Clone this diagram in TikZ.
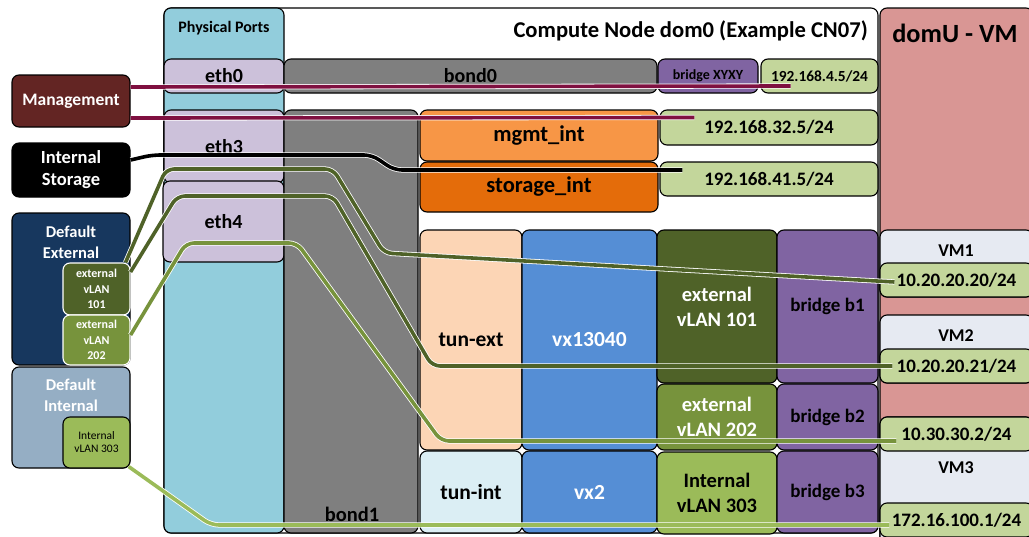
\documentclass[tikz,border=0pt]{standalone}
\usepackage{fontspec}
\setmainfont{Carlito}
\definecolor{PortBlue}{HTML}{92CDDC}
\definecolor{EthLilac}{HTML}{CCC1DA}
\definecolor{BondGray}{HTML}{7F7F7F}
\definecolor{BridgePurple}{HTML}{8064A2}
\definecolor{IpGreen}{HTML}{C3D69B}
\definecolor{MgmtOrange}{HTML}{F79646}
\definecolor{StorOrange}{HTML}{E46C0A}
\definecolor{TunPeach}{HTML}{FCD5B5}
\definecolor{TunIce}{HTML}{DBEEF4}
\definecolor{VxBlue}{HTML}{558ED5}
\definecolor{VlanDark}{HTML}{4F6228}
\definecolor{VlanMid}{HTML}{77933C}
\definecolor{VlanLight}{HTML}{9BBB59}
\definecolor{DomuPink}{HTML}{D99694}
\definecolor{VmMist}{HTML}{E6EAF2}
\definecolor{MgmtBrown}{HTML}{632523}
\definecolor{ExtNavy}{HTML}{17375E}
\definecolor{IntSlate}{HTML}{95AEC4}
\definecolor{WireMaroon}{HTML}{7F1040}
\tikzset{
  wh/.style 2 args={minimum width=#1, minimum height=#2},
  box/.style={draw=black, rounded corners=7pt, align=center, inner sep=0pt,
              line width=1.1pt, font=\bfseries\fontsize{20}{23}\selectfont},
  ipbox/.style={box, fill=IpGreen, font=\bfseries\fontsize{19}{23}\selectfont},
  bridgebox/.style={box, fill=BridgePurple, font=\bfseries\fontsize{19}{23}\selectfont},
  bondbox/.style={box, fill=BondGray},
  ethbox/.style={box, fill=EthLilac},
  vmbox/.style={box, fill=VmMist},
  srcbox/.style={box, text=white, font=\bfseries\fontsize{17.5}{22}\selectfont},
  subvlan/.style={box, draw=white, text=white, wh={67}{51},
                  font=\bfseries\fontsize{12}{15.5}\selectfont},
  big/.style={font=\bfseries\fontsize{20.5}{25}\selectfont},
  bigger/.style={font=\bfseries\fontsize{22.5}{25}\selectfont},
  caption/.style={inner sep=0pt, align=center},
  tube/.style={draw=white, double=#1, double distance=3.6pt,
               line width=0.8pt, rounded corners=8pt}
}
\begin{document}
\begin{tikzpicture}[x=1pt, y=-1pt]
  \path[use as bounding box, fill=white] (0,0) rectangle (1029,536);
  \clip (0,0) rectangle (1029,536);

  % hosts
  \node[box, fill=white, wh={714}{525}] (cn) at (521,270.5) {};
  \node[box, fill=DomuPink, wh={153}{537}] (domu) at (956.5,276.5) {};
  \node[caption, anchor=east, font=\bfseries\fontsize{22.6}{25}\selectfont]
    (cntitle) at (868,31) {Compute Node dom0 (Example CN07)};
  \node[caption, font=\bfseries\fontsize{26.3}{29}\selectfont]
    (domutitle) at (955,33) {domU - VM};

  % physical ports
  \node[box, fill=PortBlue, wh={120}{525}] (ports) at (224,270.5) {};
  \node[caption, font=\bfseries\fontsize{16}{18}\selectfont]
    (portstitle) at (224,28) {Physical Ports};
  \node[ethbox, wh={120}{34}] (eth0) at (224,76) {eth0};
  \node[ethbox, wh={120}{73}] (eth3) at (224,146.5) {eth3};
  \node[ethbox, wh={121}{81}] (eth4) at (223.5,221.5) {eth4};

  % bonds, bridges, addresses
  \node[bondbox, wh={373}{34}] (bond0) at (470.5,76) {bond0};
  \node[bridgebox, wh={100}{34}, font=\bfseries\fontsize{14}{16}\selectfont]
    (brxyxy) at (708,76) {bridge XYXY};
  \node[ipbox, wh={117}{34}, font=\bfseries\fontsize{15.4}{18}\selectfont]
    (ip0) at (819.5,76) {192.168.4.5/24};
  \node[bondbox, wh={134}{423}] (bond1) at (351,321.5) {};
  \node[caption, big] (bond1lbl) at (352,514) {bond1};
  \node[box, bigger, fill=MgmtOrange, wh={238}{51}] (mgmtint) at (539,135.5) {mgmt\_int};
  \node[box, bigger, fill=StorOrange, wh={238}{50}] (storint) at (539,187) {storage\_int};
  \node[ipbox, wh={218}{35}] (ip32) at (769,127.5) {192.168.32.5/24};
  \node[ipbox, wh={218}{34}] (ip41) at (769,179) {192.168.41.5/24};

  % tunnels and vlans
  \node[box, fill=TunPeach, wh={102}{220}, font=\bfseries\fontsize{21.5}{25}\selectfont]
    (tunext) at (471,340) {tun-ext};
  \node[box, fill=TunIce, wh={102}{82}, font=\bfseries\fontsize{21.5}{25}\selectfont]
    (tunint) at (471,492) {tun-int};
  \node[box, fill=VxBlue, text=white, wh={135}{220}, font=\bfseries\fontsize{21.5}{25}\selectfont]
    (vxext) at (589.5,340) {vx13040};
  \node[box, fill=VxBlue, text=white, wh={135}{82}, font=\bfseries\fontsize{21.5}{25}\selectfont]
    (vxint) at (589.5,492) {vx2};
  \node[box, big, fill=VlanDark, text=white, wh={120}{153}] (vlan101) at (717,306.5)
    {external\\vLAN 101};
  \node[box, big, fill=VlanMid, text=white, wh={120}{66}] (vlan202) at (717,417)
    {external\\vLAN 202};
  \node[box, big, fill=VlanLight, wh={120}{82}] (vlan303) at (717,493)
    {Internal\\vLAN 303};
  \node[bridgebox, wh={101}{153}] (brb1) at (827.5,306.5) {bridge b1};
  \node[bridgebox, wh={101}{66}] (brb2) at (827.5,417) {bridge b2};
  \node[bridgebox, wh={101}{82}] (brb3) at (827.5,492) {bridge b3};

  % guests
  \node[vmbox, wh={153}{67}] (vm1) at (956.5,263.5) {};
  \node[caption, font=\bfseries\fontsize{18}{20}\selectfont] (vm1lbl) at (956,251) {VM1};
  \node[ipbox, wh={153}{34}] (ip1) at (956.5,280) {10.20.20.20/24};
  \node[vmbox, wh={153}{68}] (vm2) at (956.5,349) {};
  \node[caption, font=\bfseries\fontsize{18}{20}\selectfont] (vm2lbl) at (956,336) {VM2};
  \node[ipbox, wh={153}{34}] (ip2) at (956.5,366) {10.20.20.21/24};
  \node[vmbox, wh={153}{128}] (vm3) at (956.5,481) {};
  \node[caption, font=\bfseries\fontsize{18}{20}\selectfont] (vm3lbl) at (956,468) {VM3};
  \node[ipbox, wh={153}{34}] (ip3) at (956.5,434) {10.30.30.2/24};
  \node[ipbox, wh={153}{34}] (ip4) at (956.5,520) {172.16.100.1/24};

  % networks outside
  \node[srcbox, fill=MgmtBrown, wh={118}{52}] (mgmtnet) at (71,101) {Management};
  \node[srcbox, fill=black, wh={118}{54}, font=\bfseries\fontsize{18.5}{22}\selectfont]
    (stornet) at (71,170) {Internal\\Storage};
  \node[srcbox, fill=ExtNavy, wh={118}{152}] (defext) at (71,289) {};
  \node[caption, text=white, font=\bfseries\fontsize{16.5}{21}\selectfont]
    (defextlbl) at (71,242.5) {Default\\External};
  \node[subvlan, fill=VlanDark, wh={67}{52}] (ext101) at (96.5,289) {external\\vLAN\\101};
  \node[subvlan, fill=VlanMid, wh={67}{50}] (ext202) at (96.5,340) {external\\vLAN\\202};
  \node[srcbox, fill=IntSlate, wh={118}{101}] (defint) at (71,417.5) {};
  \node[caption, text=white, font=\bfseries\fontsize{16.5}{21}\selectfont]
    (defintlbl) at (71,395.5) {Default\\Internal};
  \node[box, fill=VlanLight, wh={67}{51}, font=\fontsize{11.5}{13}\selectfont]
    (int303) at (96.5,442.5) {Internal\\vLAN 303};

  % wires
  \draw[tube=WireMaroon] ([yshift=14pt]mgmtnet.east) -- ([xshift=-29pt,yshift=-10pt]ip0.center);
  \draw[tube=WireMaroon] ([yshift=-17pt]mgmtnet.east) -- ([xshift=35pt,yshift=10pt]ip32.west);
  \draw[tube=black] ([yshift=10pt]stornet.east) -- (152,155) -- (372,155) -- (394,170)
    -- ([xshift=23pt,yshift=9pt]ip41.west);
  \draw[tube=VlanDark] ([xshift=-5pt]ext101.north east) -- (166,169) -- (333,169)
    -- (384,253) -- ([xshift=15pt,yshift=-2pt]ip1.west);
  \draw[tube=VlanDark] ([yshift=17pt]ext101.east) -- (177,196) -- (333,196)
    -- (432,366) -- ([xshift=13pt]ip2.west);
  \draw[tube=VlanMid] ([yshift=5pt]ext202.east) -- (186,243) -- (297,243)
    -- (441,441) -- ([xshift=17pt,yshift=-7pt]ip3.west);
  \draw[tube=VlanLight] ([xshift=-2pt,yshift=-24pt]int303.east) -- (211,525)
    -- ([xshift=10pt,yshift=-5pt]ip4.west);
\end{tikzpicture}
\end{document}
